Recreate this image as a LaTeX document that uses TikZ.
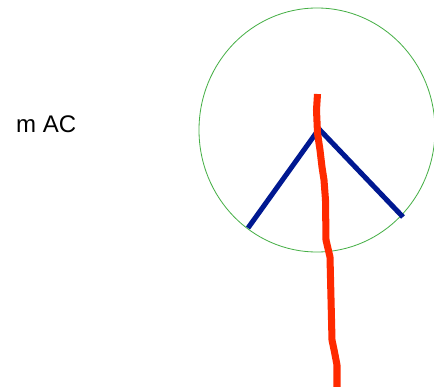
\documentclass[tikz,border=0pt]{standalone}
\usepackage{fontspec}
\setmainfont{Liberation Sans}
\usetikzlibrary{positioning,calc}
\definecolor{ringgreen}{RGB}{70,175,70}
\definecolor{legblue}{RGB}{0,24,145}
\definecolor{stickred}{RGB}{255,42,0}

\begin{document}
\begin{tikzpicture}[x=0.03cm, y=-0.03cm, every node/.style={font=\fontsize{20.5}{22}\selectfont},
  ring/.style={ringgreen,line width=0.7pt},
  leg/.style={legblue,line width=4.3pt},
  stick/.style={stickred,line width=6pt,line join=round}]
\useasboundingbox (0,0) rectangle (434,387);
\node[anchor=base west,inner sep=0pt](label) at (16,132.5){m AC};
\draw[ring] (317,130) ellipse [x radius=118, y radius=122];
\coordinate (apex) at (319,129);
\coordinate (leftend) at (248,228);
\coordinate (rightend) at (403,217);
\draw[leg] (leftend)--(apex)--(rightend);
\draw[stick] (317.5,94)--(316.5,110)--(317.5,133)--(320,150)--(322,167)--(324,180)--(325.5,200)--(326,240)--(330,257)--(332,340)--(334.5,352)--(337,365)--(337,387);
\end{tikzpicture}
\end{document}
